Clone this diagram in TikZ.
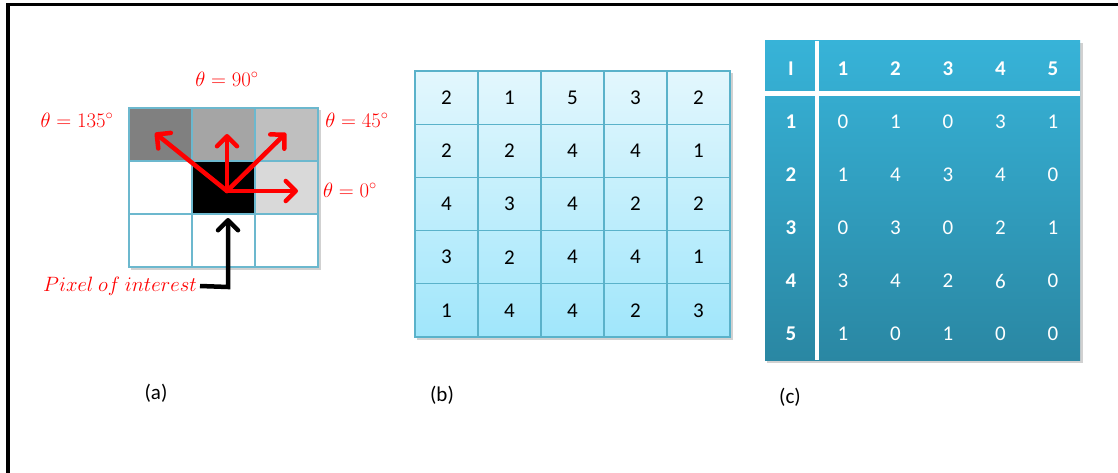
\documentclass[tikz,border=0pt]{standalone}
\usepackage{fontspec}
\setmainfont{Carlito}
\usetikzlibrary{arrows.meta}
\definecolor{gridline}{HTML}{6CB8CE}
\definecolor{bline}{HTML}{5AB2CA}
\definecolor{btop}{HTML}{E3F7FD}
\definecolor{bbot}{HTML}{A0E6FB}
\definecolor{ctop}{HTML}{37B3D8}
\definecolor{cbot}{HTML}{2A87A3}
\definecolor{redarrow}{HTML}{FF0000}
\tikzset{
  acell/.style={draw=gridline,line width=1.5pt,minimum width=63pt,minimum height=53pt,inner sep=0pt,outer sep=0pt},
  bcell/.style={draw=bline,line width=1.3pt,minimum width=63pt,minimum height=53.2pt,inner sep=0pt,outer sep=0pt,font=\fontsize{21}{23}\selectfont},
  ccell/.style={text=white,inner sep=0pt,font=\fontsize{21}{23}\selectfont},
  chead/.style={ccell,font=\fontsize{21}{23}\selectfont\bfseries},
  theta/.style={text=red,font=\fontsize{22}{24}\selectfont,inner sep=0pt},
  redarr/.style={draw=redarrow,line width=4.5pt,-{Straight Barb[length=10pt,width=20pt,line cap=round,line join=round]},line cap=round},
  blkarr/.style={draw=black,line width=4.5pt,-{Straight Barb[length=10pt,width=20pt,line cap=round,line join=round]}},
  caption/.style={font=\fontsize{21}{23}\selectfont,inner sep=0pt},
  shadowbox/.style={fill=black,opacity=0.18}
}
\begin{document}
\begin{tikzpicture}[x=1pt,y=-1pt]
\useasboundingbox (0,0) rectangle (1118,473);
\fill[white] (0,0) rectangle (1118,473);
% frame
\draw[line width=3.5pt] (8,4.5) rectangle (1140,500);

% ---------- (a) ----------
\fill[shadowbox] (131,110) rectangle (321,270);
\node[acell,fill={rgb,255:red,128;green,128;blue,128}] (a11) at (160.5,134.5) {};
\node[acell,fill={rgb,255:red,165;green,165;blue,165}] (a12) at (223.5,134.5) {};
\node[acell,fill={rgb,255:red,191;green,191;blue,191}] (a13) at (286.5,134.5) {};
\node[acell,fill=white] (a21) at (160.5,187.5) {};
\node[acell,fill=black] (a22) at (223.5,187.5) {};
\node[acell,fill={rgb,255:red,217;green,217;blue,217}] (a23) at (286.5,187.5) {};
\node[acell,fill=white] (a31) at (160.5,240.5) {};
\node[acell,fill=white] (a32) at (223.5,240.5) {};
\node[acell,fill=white] (a33) at (286.5,240.5) {};

\coordinate (o) at (227,191);
\coordinate (e135) at (155,133);
\coordinate (e90) at (227,134);
\coordinate (e45) at (286,133);
\coordinate (e0) at (298,191);
\draw[redarr] (o) -- (e135);
\draw[redarr] (o) -- (e90);
\draw[redarr] (o) -- (e45);
\draw[redarr] (o) -- (e0);

\node[theta] (t90) at (227,79) {$\theta = 90^{\circ}$};
\node[theta] (t135) at (77,120) {$\theta = 135^{\circ}$};
\node[theta] (t45) at (357,120) {$\theta = 45^{\circ}$};
\node[theta] (t0) at (350,190) {$\theta = 0^{\circ}$};

\node[theta,anchor=east,font=\fontsize{21}{23}\selectfont] (poi) at (197,286) {$Pixel\ of\ interest$};
\coordinate (pcorner) at (228,287);
\coordinate (ptip) at (228,218);
\draw[blkarr] (poi.east) ++(3pt,0) -- (pcorner) -- (ptip);

\node[caption] (capa) at (156,393) {(a)};

% ---------- (b) ----------
\fill[shadowbox] (417,73) rectangle (733,340);
\shade[top color=btop,bottom color=bbot] (415,71) rectangle (730,337);
\foreach \r/\vals in {1/{2,1,5,3,2},2/{2,2,4,4,1},3/{4,3,4,2,2},4/{3,2,4,4,1},5/{1,4,4,2,3}}{
  \foreach \v [count=\c] in \vals {
    \node[bcell] (b\r\c) at ({446.5+63*(\c-1)},{97.6+53.2*(\r-1)}) {\v};
  }
}
\node[caption] (capb) at (442,395) {(b)};

% ---------- (c) ----------
\fill[shadowbox] (767,43) rectangle (1083,363);
\shade[top color=ctop,bottom color=cbot] (765,41) rectangle (1080,360);
\draw[white,line width=4pt] (817,41) -- (817,360);
\draw[white,line width=4.5pt] (765,93.5) -- (1080,93.5);
\node[chead] (cI) at (791,69) {I};
\foreach \v [count=\c] in {1,2,3,4,5}{
  \node[chead] (ch\c) at ({843+52.5*(\c-1)},69) {\v};
  \node[chead] (cr\c) at (791,{122+53*(\c-1)}) {\v};
}
\foreach \r/\vals in {1/{0,1,0,3,1},2/{1,4,3,4,0},3/{0,3,0,2,1},4/{3,4,2,6,0},5/{1,0,1,0,0}}{
  \foreach \v [count=\c] in \vals {
    \node[ccell] (c\r\c) at ({843+52.5*(\c-1)},{122+53*(\r-1)}) {\v};
  }
}
\node[caption] (capc) at (790,397) {(c)};
\end{tikzpicture}
\end{document}
